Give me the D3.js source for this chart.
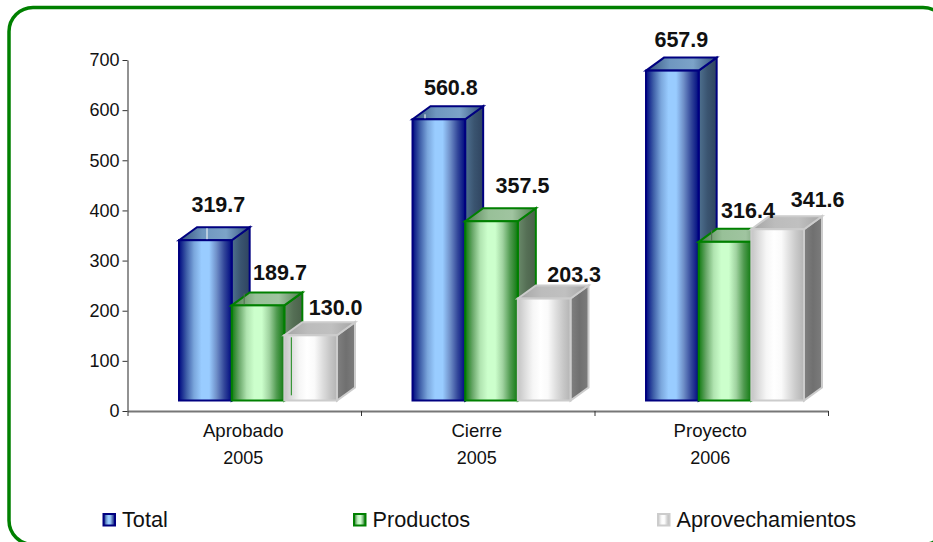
<!DOCTYPE html>
<html>
<head>
<meta charset="utf-8">
<script src="https://cdn.jsdelivr.net/npm/d3@7"></script>
<style>
    html, body { margin: 0; padding: 0; background: #fff; overflow: hidden; }
    text { font-family: "Liberation Sans", Arial, sans-serif; fill: #111; }
</style>
</head>
<body>
<div id="vis"></div>
<script>
const categories = ["Aprobado", "Cierre", "Proyecto"];
const years = ["2005", "2005", "2006"];
const seriesNames = ["Total", "Productos", "Aprovechamientos"];
const total = [319.7, 560.8, 657.9];
const productos = [189.7, 357.5, 316.4];
const aprovechamientos = [130.0, 203.3, 341.6];
const yTicks = [0, 100, 200, 300, 400, 500, 600, 700];

// hand placed labels, offset from the back top centre of each bar: [series][category]
const labelNudgeX = [[4, 3, 0], [13, 22, 14], [16, 21, 31]];
const labelNudgeY = [[-15, -11, -11], [-12, -15, -11], [-7, -4, -9]];

const seriesValues = [total, productos, aprovechamientos];

const styles = [
    {
        stroke: "#000080",
        front: ["#000a80", "#3f5fa8", "#7aa6dc", "#99ccff", "#99ccff", "#6f8fc8", "#33479a", "#000a80"],
        top: ["#33507a", "#6f97bf", "#7ca3c8", "#33507a"],
        side: ["#4f7190", "#3a5470", "#2f4460"]
    },
    {
        stroke: "#008000",
        front: ["#107a10", "#6aa86a", "#b0e4b0", "#ccffcc", "#ccffcc", "#9fd29f", "#4f9a4f", "#107a10"],
        top: ["#4d7a4d", "#98c098", "#a0c4a0", "#4d7a4d"],
        side: ["#6a8a6a", "#556f55", "#4a614a"]
    },
    {
        stroke: "#cccccc",
        front: ["#c4c4c4", "#dedede", "#f6f6f6", "#ffffff", "#fafafa", "#e0e0e0", "#c8c8c8", "#b4b4b4"],
        top: ["#a4a4a4", "#bcbcbc", "#c0c0c0", "#a4a4a4"],
        side: ["#808080", "#707070", "#7c7c7c"]
    }
];

const W = 933, H = 542;
const depthX = 18, depthY = 13, floorLift = 10.5;

const svg = d3.select("#vis").append("svg")
    .attr("width", W)
    .attr("height", H)
    .style("display", "block");

const defs = svg.append("defs");

function addGradient(id, colors) {
    const g = defs.append("linearGradient").attr("id", id);
    colors.forEach((c, i) => {
        g.append("stop")
            .attr("offset", i / (colors.length - 1))
            .attr("stop-color", c);
    });
}

styles.forEach((s, i) => {
    addGradient(`front-${i}`, s.front);
    addGradient(`top-${i}`, s.top);
    addGradient(`side-${i}`, s.side);
});

svg.append("rect")
    .attr("x", 9)
    .attr("y", 7.5)
    .attr("width", 938)
    .attr("height", 537)
    .attr("rx", 24)
    .attr("ry", 24)
    .attr("fill", "#fff")
    .attr("stroke", "#008000")
    .attr("stroke-width", 3.5);

const y = d3.scaleLinear().domain([0, 700]).range([411, 60]);
const x = d3.scaleBand().domain(categories).range([127.5, 828]);
const xEdge = d3.scaleLinear().domain([0, 3]).range([127.5, 828]);
const xBar = d3.scaleBand().domain(seriesNames).range([51.5, 209.5]);

// axes
const yAxis = svg.append("g")
    .attr("transform", "translate(127.5,0)")
    .call(d3.axisLeft(y).tickValues(yTicks).tickSize(5).tickPadding(3).tickSizeOuter(0));
yAxis.selectAll("text").style("font-size", "18px");
yAxis.select(".domain").attr("stroke", "#777").attr("stroke-width", 1.6);
yAxis.selectAll("line").attr("stroke", "#333");

const xAxis = svg.append("g")
    .attr("transform", `translate(0,${y(0)})`)
    .call(d3.axisBottom(xEdge).tickValues(d3.range(4)).tickFormat("").tickSize(5).tickSizeOuter(0));
xAxis.select(".domain").attr("stroke", "#777").attr("stroke-width", 2);
xAxis.selectAll("line").attr("stroke", "#333");

categories.forEach((c, i) => {
    const cx = x(c) + x.bandwidth() / 2 - 1;
    const t = svg.append("text")
        .attr("text-anchor", "middle");
    t.append("tspan").attr("x", cx).attr("y", 437).style("font-size", "18.6px").text(c);
    t.append("tspan").attr("x", cx).attr("y", 464).style("font-size", "18px").text(years[i]);
});

// bars, back to front so each series covers the side of the previous one
const path = d3.line();
seriesNames.forEach((name, si) => {
    categories.forEach((c, ci) => {
        const v = seriesValues[si][ci];
        const x0 = x(c) + xBar(name);
        const x1 = x0 + xBar.bandwidth();
        const yTop = y(v) - floorLift;
        const yBase = y(0) - floorLift;
        const g = svg.append("g")
            .attr("stroke", styles[si].stroke)
            .attr("stroke-width", 2)
            .attr("stroke-linejoin", "miter");

        g.append("path")
            .attr("fill", `url(#side-${si})`)
            .attr("d", path([[x1, yTop], [x1 + depthX, yTop - depthY], [x1 + depthX, yBase - depthY], [x1, yBase]]) + "Z");
        g.append("path")
            .attr("fill", `url(#top-${si})`)
            .attr("d", path([[x0, yTop], [x0 + depthX, yTop - depthY], [x1 + depthX, yTop - depthY], [x1, yTop]]) + "Z");
        g.append("rect")
            .attr("x", x0)
            .attr("y", yTop)
            .attr("width", x1 - x0)
            .attr("height", yBase - yTop)
            .attr("fill", `url(#front-${si})`);
    });
});

// thin leader stubs the original leaves on some bars
function stub(ci, si, dx, up, down, color) {
    const yTop = y(seriesValues[si][ci]) - floorLift;
    const lx = x(categories[ci]) + xBar(seriesNames[si]) + dx;
    svg.append("line")
        .attr("x1", lx)
        .attr("x2", lx)
        .attr("y1", yTop - up)
        .attr("y2", yTop + down)
        .attr("stroke", color)
        .attr("stroke-width", 1);
}
stub(0, 0, 28, 12, -1, "#fff");
stub(1, 0, 12.5, 5, -1, "#fff");
stub(0, 1, 12.5, 12, -1, "#4f6f4f");
stub(2, 1, 13, 12, -1, "#4f6f4f");
stub(0, 2, 7, -2, 60, "#1a8a1a");

// value labels
seriesNames.forEach((name, si) => {
    categories.forEach((c, ci) => {
        const v = seriesValues[si][ci];
        svg.append("text")
            .attr("x", x(c) + xBar(name) + xBar.bandwidth() / 2 + depthX / 2 + labelNudgeX[si][ci])
            .attr("y", y(v) - floorLift - depthY + labelNudgeY[si][ci])
            .attr("text-anchor", "middle")
            .style("font-size", "21.5px")
            .style("font-weight", "bold")
            .text(v.toFixed(1));
    });
});

// legend
const legendXs = [103.5, 354, 658];
seriesNames.forEach((name, i) => {
    svg.append("rect")
        .attr("x", legendXs[i])
        .attr("y", 514)
        .attr("width", 11.5)
        .attr("height", 11.5)
        .attr("fill", `url(#front-${i})`)
        .attr("stroke", styles[i].stroke)
        .attr("stroke-width", 2);
    svg.append("text")
        .attr("x", legendXs[i] + 18.5)
        .attr("y", 527)
        .style("font-size", "21.7px")
        .text(name);
});
</script>
</body>
</html>
